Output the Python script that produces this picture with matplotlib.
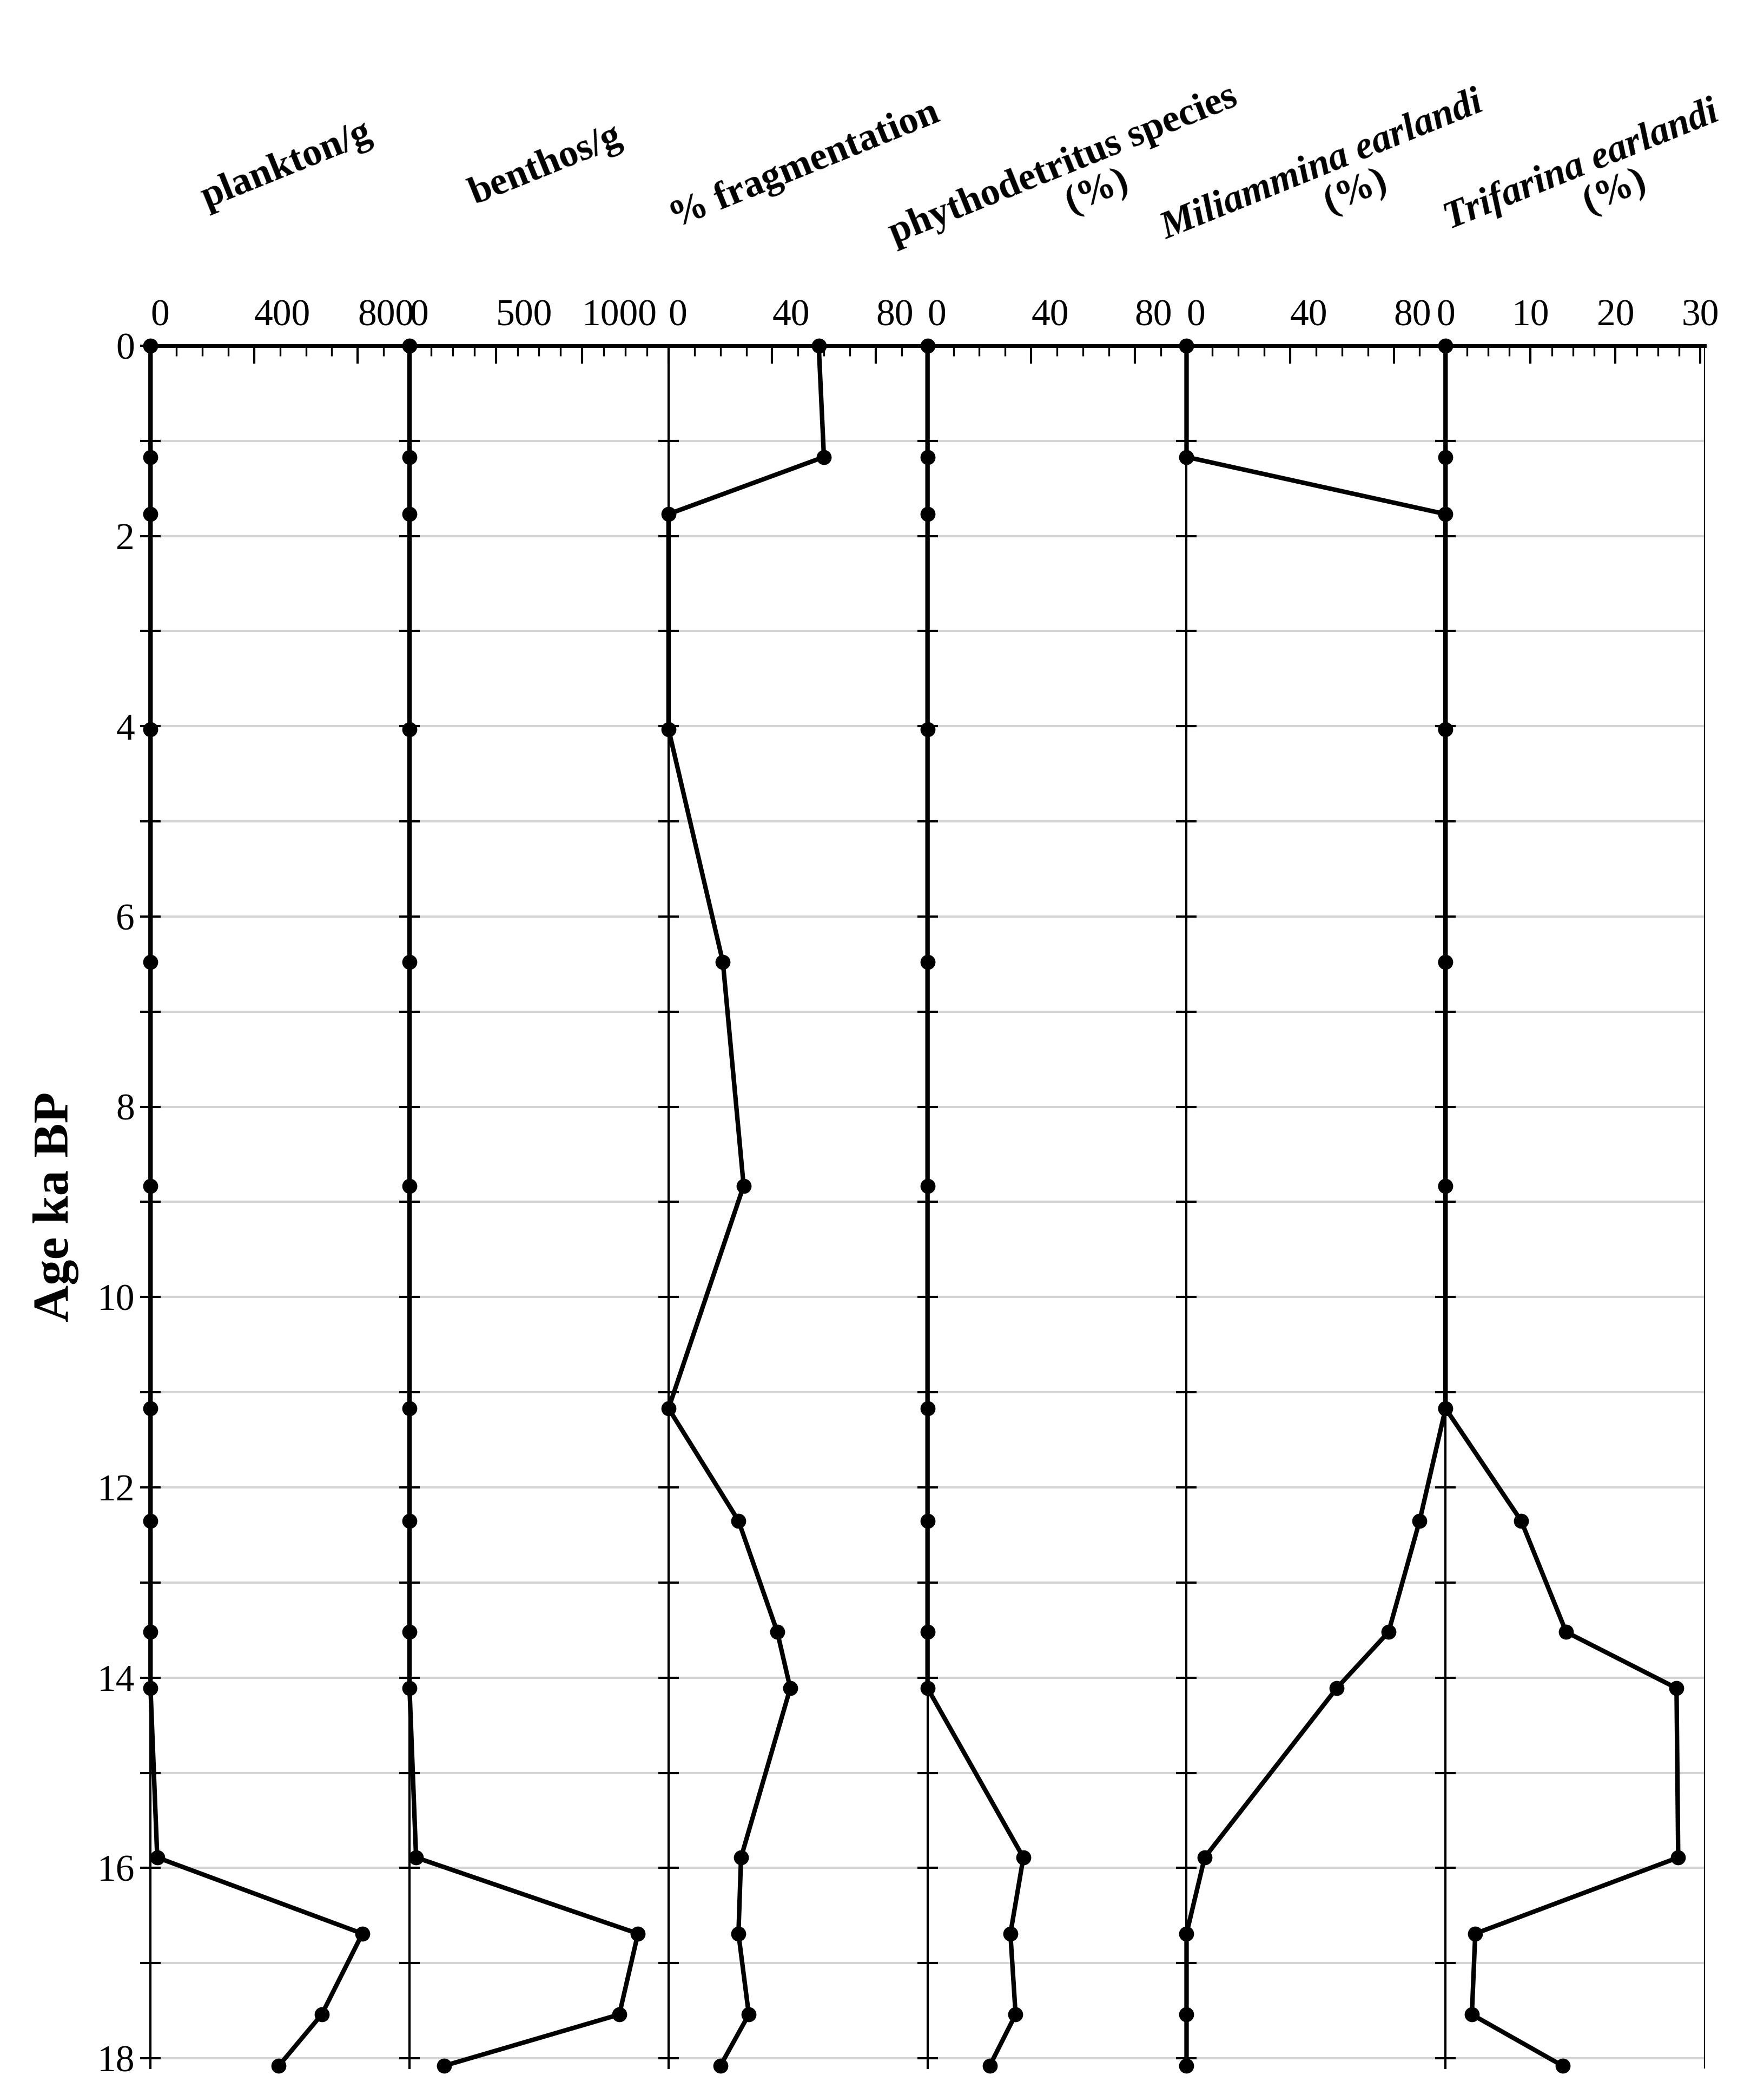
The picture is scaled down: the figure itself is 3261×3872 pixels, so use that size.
import matplotlib.pyplot as plt
from matplotlib.ticker import MultipleLocator

age = [0, 1.17, 1.77, 4.03, 6.48, 8.83, 11.17, 12.35, 13.52, 14.11, 15.89, 16.69, 17.54, 18.08]
plankton = [0, 0, 0, 0, 0, 0, 0, 0, 0, 0, 26, 818, 661, 495]
benthos = [0, 0, 0, 0, 0, 0, 0, 0, 0, 0, 38, 1323, 1215, 200]
fragmentation = [58, 60, 0, 0, 21, 29, 0, 27, 42, 47, 28, 27, 31, 20]
phytodetritus = [0, 0, 0, 0, 0, 0, 0, 0, 0, 0, 37, 32, 34, 24]
miliammina = [0, 0, 100, 100, 100, 100, 100, 90, 78, 58, 7, 0, 0, 0]
trifarina = [0, 0, 0, 0, 0, 0, 0, 8.9, 14.2, 27.2, 27.4, 3.5, 3.1, 13.8]

series = [plankton, benthos, fragmentation, phytodetritus, miliammina, trifarina]
xlims = [(0, 1000), (0, 1500), (0, 100), (0, 100), (0, 100), (0, 30.5)]
xticks = [[0, 400, 800], [0, 500, 1000], [0, 40, 80], [0, 40, 80], [0, 40, 80], [0, 10, 20, 30]]
minor = [100, 125, 10, 10, 10, 2.5]
titles = [("plankton/g", None, False), ("benthos/g", None, False),
          ("% fragmentation", None, False),
          ("phythodetritus species", "(%)", False),
          ("Miliammina earlandi", "(%)", True),
          ("Trifarina earlandi", "(%)", True)]

plt.rcParams['font.family'] = ['Liberation Serif', 'DejaVu Serif']
fig = plt.figure(figsize=(16.31, 19.36), dpi=200)
left, right, top, bottom = 0.0853, 0.966, 0.835, 0.013
w = (right - left) / 6

for i, vals in enumerate(series):
    ax = fig.add_axes([left + i * w, bottom, w, top - bottom])
    ax.plot(vals, age, color='black', lw=3, marker='o', ms=9, clip_on=False, zorder=5)
    ax.set_xlim(*xlims[i])
    ax.set_ylim(18.1, 0)
    ax.set_xticks(xticks[i])
    ax.xaxis.set_minor_locator(MultipleLocator(minor[i]))
    ax.yaxis.set_major_locator(MultipleLocator(2))
    ax.yaxis.set_minor_locator(MultipleLocator(1))
    ax.xaxis.tick_top()
    ax.tick_params(axis='x', which='both', direction='in', labelsize=25, pad=8)
    ax.tick_params(axis='x', which='major', length=12, width=1.5)
    ax.tick_params(axis='x', which='minor', length=7, width=1.2)
    ax.tick_params(axis='y', which='both', direction='inout', length=14, width=1.5, labelsize=25)
    for lab in ax.get_xticklabels():
        lab.set_horizontalalignment('left')
    ax.grid(axis='y', which='both', color='#d4d4d4', lw=1.5)
    for s in ['right', 'bottom']:
        ax.spines[s].set_visible(False)
    ax.spines['left'].set_linewidth(1.5)
    ax.spines['top'].set_linewidth(2.5)
    if i == 5:
        ax.spines['right'].set_visible(True)
        for lab in ax.get_xticklabels():
            lab.set_horizontalalignment('center')
    if i == 0:
        ax.set_ylabel('Age ka BP', fontsize=34, fontweight='bold', labelpad=12)
    else:
        ax.tick_params(axis='y', labelleft=False)
    t1, t2, ital = titles[i]
    ax.text(0.55, 1.095, t1, transform=ax.transAxes, rotation=22, ha='center', va='bottom',
            fontsize=26, fontweight='bold', fontstyle='italic' if ital else 'normal',
            rotation_mode='anchor')
    if t2:
        ax.text(0.68, 1.08, t2, transform=ax.transAxes, rotation=22, ha='center', va='bottom',
                fontsize=26, fontweight='bold', rotation_mode='anchor')

fig.savefig('out.png', dpi=200)
